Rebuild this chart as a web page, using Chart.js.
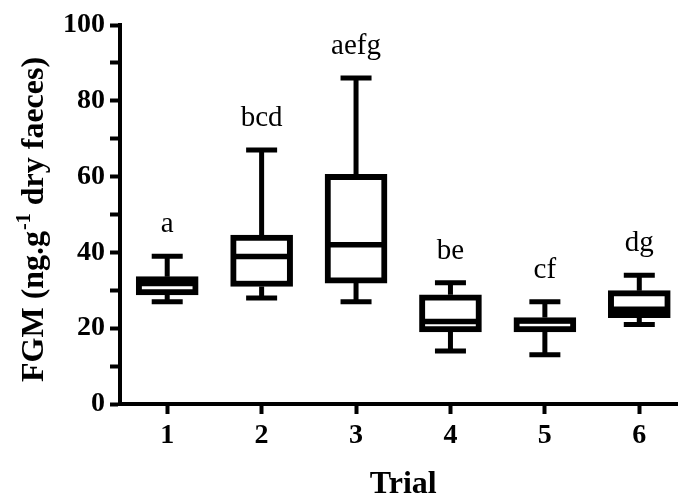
<!DOCTYPE html>
<html>
<head>
<meta charset="utf-8">
<script src="https://cdn.jsdelivr.net/npm/chart.js@4/dist/chart.umd.min.js"></script>
<style>
  html, body { margin: 0; padding: 0; background: #fff; overflow: hidden; }
  #wrap { width: 678px; height: 496px; }
</style>
</head>
<body>
<div id="wrap"><canvas id="chart" width="678" height="496"></canvas></div>
<script>
// Trial data (FGM, ng.g-1 dry faeces)
const trials = [1, 2, 3, 4, 5, 6];
const whiskerMin = [27, 28, 27, 14, 13, 21];
const boxQ1 = [28.8, 31.0, 31.9, 19.0, 19.0, 22.8];
const boxMedian = [31.8, 38.9, 42.0, 21.8, 21.9, 25.0];
const boxQ3 = [33.6, 44.6, 60.6, 28.8, 22.8, 29.9];
const whiskerMax = [39, 67, 86, 32, 27, 34];
const groupLetters = ['a', 'bcd', 'aefg', 'be', 'cf', 'dg'];
const yTicks = [0, 20, 40, 60, 80, 100];

const SERIF = "'Liberation Serif', 'Times New Roman', serif";

// whiskers, medians, letters and axis titles drawn through the scales
const boxExtras = {
    id: 'boxExtras',
    afterDatasetsDraw(chart) {
        const ctx = chart.ctx;
        const xs = chart.scales.x;
        const ys = chart.scales.y;
        const meta = chart.getDatasetMeta(0);
        ctx.save();
        ctx.strokeStyle = '#000';
        ctx.lineCap = 'butt';
        trials.forEach((t, i) => {
            const cx = xs.getPixelForValue(t);
            const bar = meta.data[i];
            const half = bar.width / 2 - 3;
            const capHalf = 15.5;
            const pMin = ys.getPixelForValue(whiskerMin[i]);
            const pMax = ys.getPixelForValue(whiskerMax[i]);
            const pQ1 = ys.getPixelForValue(boxQ1[i]);
            const pQ3 = ys.getPixelForValue(boxQ3[i]);
            const pMed = ys.getPixelForValue(boxMedian[i]);
            ctx.lineWidth = 5;
            ctx.beginPath();
            // upper whisker
            ctx.moveTo(cx, pQ3);
            ctx.lineTo(cx, pMax);
            ctx.moveTo(cx - capHalf, pMax);
            ctx.lineTo(cx + capHalf, pMax);
            // lower whisker
            ctx.moveTo(cx, pQ1);
            ctx.lineTo(cx, pMin);
            ctx.moveTo(cx - capHalf, pMin);
            ctx.lineTo(cx + capHalf, pMin);
            ctx.stroke();
            // median
            ctx.lineWidth = 5.5;
            ctx.beginPath();
            ctx.moveTo(cx - half, pMed);
            ctx.lineTo(cx + half, pMed);
            ctx.stroke();

            ctx.fillStyle = '#000';
            ctx.font = '29px ' + SERIF;
            ctx.textAlign = 'center';
            ctx.textBaseline = 'alphabetic';
            ctx.fillText(groupLetters[i], cx, pMax - 24);
        });

        // x title
        ctx.font = 'bold 32px ' + SERIF;
        ctx.textAlign = 'center';
        ctx.textBaseline = 'alphabetic';
        ctx.fillText('Trial', xs.getPixelForValue(3.5), 493);

        // y title with superscript
        ctx.translate(43, 382);
        ctx.rotate(-Math.PI / 2);
        ctx.textAlign = 'left';
        const big = 'bold 32px ' + SERIF;
        const small = 'bold 20px ' + SERIF;
        let x = 0;
        ctx.font = big;
        ctx.fillText('FGM (ng.g', x, 0);
        x += ctx.measureText('FGM (ng.g').width + 1;
        ctx.font = small;
        ctx.fillText('-1', x, -13);
        x += ctx.measureText('-1').width;
        ctx.font = big;
        ctx.fillText(' dry faeces)', x, 0);
        ctx.restore();
    }
};

const ctx = document.getElementById('chart').getContext('2d');
new Chart(ctx, {
    type: 'bar',
    data: {
        datasets: [{
            data: trials.map((t, i) => ({ x: t, y: [boxQ1[i], boxQ3[i]] })),
            backgroundColor: '#fff',
            borderColor: '#000',
            borderWidth: 6,
            borderSkipped: false,
            barThickness: 62
        }]
    },
    options: {
        responsive: false,
        devicePixelRatio: 1,
        animation: false,
        layout: { padding: { top: 25, right: 0, left: 0, bottom: 0 } },
        plugins: {
            legend: { display: false },
            tooltip: { enabled: false }
        },
        scales: {
            x: {
                type: 'linear',
                offset: false,
                min: 0.5,
                max: 6.41,
                afterBuildTicks: (scale) => { scale.ticks = trials.map(v => ({ value: v })); },
                afterFit: (scale) => { scale.height = 92; },
                grid: { offset: false, drawOnChartArea: false, tickLength: 10, tickWidth: 4, tickColor: '#000' },
                border: { display: true, color: '#000', width: 4 },
                ticks: {
                    color: '#000',
                    padding: 5,
                    font: { family: SERIF, size: 28, weight: 'bold' },
                    callback: (v) => String(v)
                }
            },
            y: {
                min: 0,
                max: 100,
                afterBuildTicks: (scale) => {
                    const t = [];
                    for (let v = 0; v <= 100; v += 10) t.push({ value: v });
                    scale.ticks = t;
                },
                afterFit: (scale) => { scale.width = 120; },
                grid: { drawOnChartArea: false, tickLength: 10, tickWidth: 4, tickColor: '#000' },
                border: { display: true, color: '#000', width: 4 },
                ticks: {
                    color: '#000',
                    padding: 5,
                    font: { family: SERIF, size: 28, weight: 'bold' },
                    callback: (v) => (yTicks.includes(v) ? String(v) : '')
                }
            }
        }
    },
    plugins: [boxExtras]
});
</script>
</body>
</html>
